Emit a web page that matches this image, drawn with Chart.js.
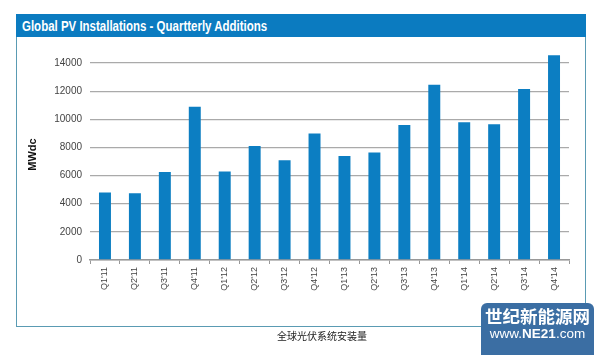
<!DOCTYPE html>
<html>
<head>
<meta charset="utf-8">
<script src="https://cdn.jsdelivr.net/npm/chart.js@4/dist/chart.umd.min.js"></script>
<style>
  html, body { margin:0; padding:0; background:#fff; }
  #wrap { position:relative; width:600px; height:355px; overflow:hidden; font-family:"Liberation Sans", Arial, sans-serif; }
  #frame { position:absolute; left:16px; top:14px; width:568px; height:311px; border:1px solid #5a9bb3; box-sizing:content-box; }
  #titlebar { position:absolute; left:16px; top:14px; width:570px; height:23px; background:#0b7bc0; }
  #titletext { position:absolute; left:22px; top:17px; color:#fff; font-weight:bold; font-size:14px; line-height:18px; transform:scaleX(0.82); transform-origin:left center; white-space:nowrap; }
  #caption { position:absolute; left:222px; width:200px; top:329px; text-align:center; font-family:"Noto Sans CJK SC", sans-serif; font-size:10px; color:#222; line-height:14px; }
  #badge { position:absolute; left:481px; top:303px; width:113px; height:58px; background:#3b6ea3; border-radius:6px; color:#fff; text-align:center; }
  #badge .cn { font-family:"Noto Sans CJK SC", sans-serif; font-weight:bold; font-size:17.5px; line-height:20px; margin-top:3px; }
  #badge .en { font-family:"Liberation Sans", Arial, sans-serif; font-size:13.5px; line-height:16px; }
  canvas { position:absolute; left:0; top:0; }
</style>
</head>
<body>
<div id="wrap">
  <div id="frame"></div>
  <div id="titlebar"></div>
  <div id="titletext">Global PV Installations - Quartterly Additions</div>
  <canvas id="c" width="600" height="355"></canvas>
  <div id="caption">全球光伏系统安装量</div>
  <div id="badge"><div class="cn">世纪新能源网</div><div class="en">www.<b>NE21</b>.com</div></div>
</div>
<script>
const categories = ["Q1'11","Q2'11","Q3'11","Q4'11","Q1'12","Q2'12","Q3'12","Q4'12","Q1'13","Q2'13","Q3'13","Q4'13","Q1'14","Q2'14","Q3'14","Q4'14"];
const installations = [4800,4750,6250,10900,6300,8100,7100,9000,7400,7650,9600,12450,9800,9650,12150,14550];
const yTicks = [0,2000,4000,6000,8000,10000,12000,14000];
const yMax = 15000;
const yAxisTitle = "MWdc";

new Chart(document.getElementById('c'), {
  type: 'bar',
  data: {
    labels: categories,
    datasets: [{
      data: installations,
      backgroundColor: '#0c7ec2',
      barPercentage: 0.8,
      categoryPercentage: 0.5
    }]
  },
  options: {
    responsive: false,
    devicePixelRatio: 1,
    animation: false,
    layout: { padding: { left: 22, top: 49, right: 31, bottom: 0 } },
    plugins: { legend: { display: false }, tooltip: { enabled: false } },
    scales: {
      x: {
        offset: true,
        grid: { offset: true, drawOnChartArea: false, drawTicks: true, tickLength: 4, color: '#999' },
        border: { display: true, color: '#999', width: 1.5 },
        ticks: { autoSkip: false, minRotation: 90, maxRotation: 90, padding: 3, color: '#444',
                 font: { family: 'Liberation Sans', size: 9 } },
        afterFit: s => { s.height = 95; }
      },
      y: {
        min: 0, max: yMax,
        afterBuildTicks: s => { s.ticks = yTicks.map(v => ({ value: v })); },
        grid: { color: '#aaa', lineWidth: 1.3, drawTicks: false },
        border: { display: false },
        ticks: { padding: 8, color: '#444', callback: v => String(v),
                 font: { family: 'Liberation Sans', size: 10 } },
        title: { display: true, text: yAxisTitle, color: '#111', padding: { top: 4, bottom: 0 },
                 font: { family: 'Liberation Sans', size: 11, weight: 'bold' } },
        afterFit: s => { s.width = 68; }
      }
    }
  }
});
</script>
</body>
</html>
